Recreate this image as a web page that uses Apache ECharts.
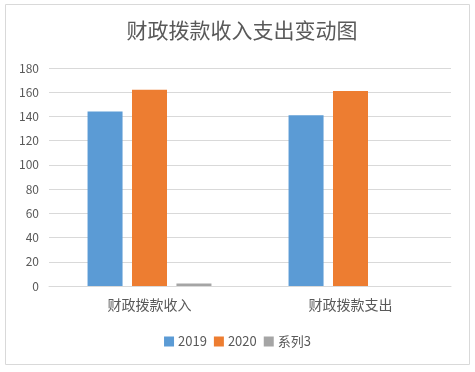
<!DOCTYPE html>
<html><head><meta charset="utf-8">
<script src="https://cdn.jsdelivr.net/npm/echarts@6/dist/echarts.min.js"></script>
<style>html,body{margin:0;padding:0;background:#fff}#c{width:475px;height:372px}</style>
</head><body><div id="c"></div>
<script>
var categories = ['财政拨款收入', '财政拨款支出'];
var seriesNames = ['2019', '2020', '系列3'];
var values2019 = [144, 141];
var values2020 = [162, 161];
var values3 = [2, 0];
var yTicks = [0, 20, 40, 60, 80, 100, 120, 140, 160, 180];
var colors = ['#5b9bd5', '#ed7d31', '#a5a5a5'];

var font = '"Noto Sans CJK SC", "Microsoft YaHei", sans-serif';
var chart = echarts.init(document.getElementById('c'));
var data = [values2019, values2020, values3];
chart.setOption({
  animation: false,
  color: colors,
  graphic: [{
    type: 'rect', shape: {x: 5.5, y: 4.5, width: 464, height: 360},
    style: {fill: 'none', stroke: '#d9d9d9', lineWidth: 1}, silent: true
  }],
  title: {
    text: '财政拨款收入支出变动图', left: 237, top: 15, textAlign: 'center',
    textStyle: {fontFamily: font, fontSize: 21, fontWeight: 'normal', color: '#595959'}
  },
  legend: {
    data: seriesNames, bottom: 19, left: 'center', itemWidth: 10, itemHeight: 10, itemGap: 7,
    icon: 'rect',
    textStyle: {fontFamily: font, fontSize: 13, color: '#595959', padding: [0, 0, 0, -1]}
  },
  grid: {left: 49, right: 24, top: 68, bottom: 86, containLabel: false},
  xAxis: {
    type: 'category', data: categories,
    axisLine: {lineStyle: {color: '#d9d9d9'}},
    axisTick: {show: false},
    axisLabel: {fontFamily: font, fontSize: 14, color: '#595959', margin: 12}
  },
  yAxis: {
    type: 'value', min: yTicks[0], max: yTicks[yTicks.length - 1], interval: 20,
    axisLine: {show: false}, axisTick: {show: false},
    splitLine: {lineStyle: {color: '#d9d9d9'}},
    axisLabel: {fontFamily: font, fontSize: 12, color: '#595959', margin: 10}
  },
  series: seriesNames.map(function (n, i) {
    return {name: n, type: 'bar', data: data[i], barWidth: 35, barGap: '27%'};
  })
});
</script></body></html>
